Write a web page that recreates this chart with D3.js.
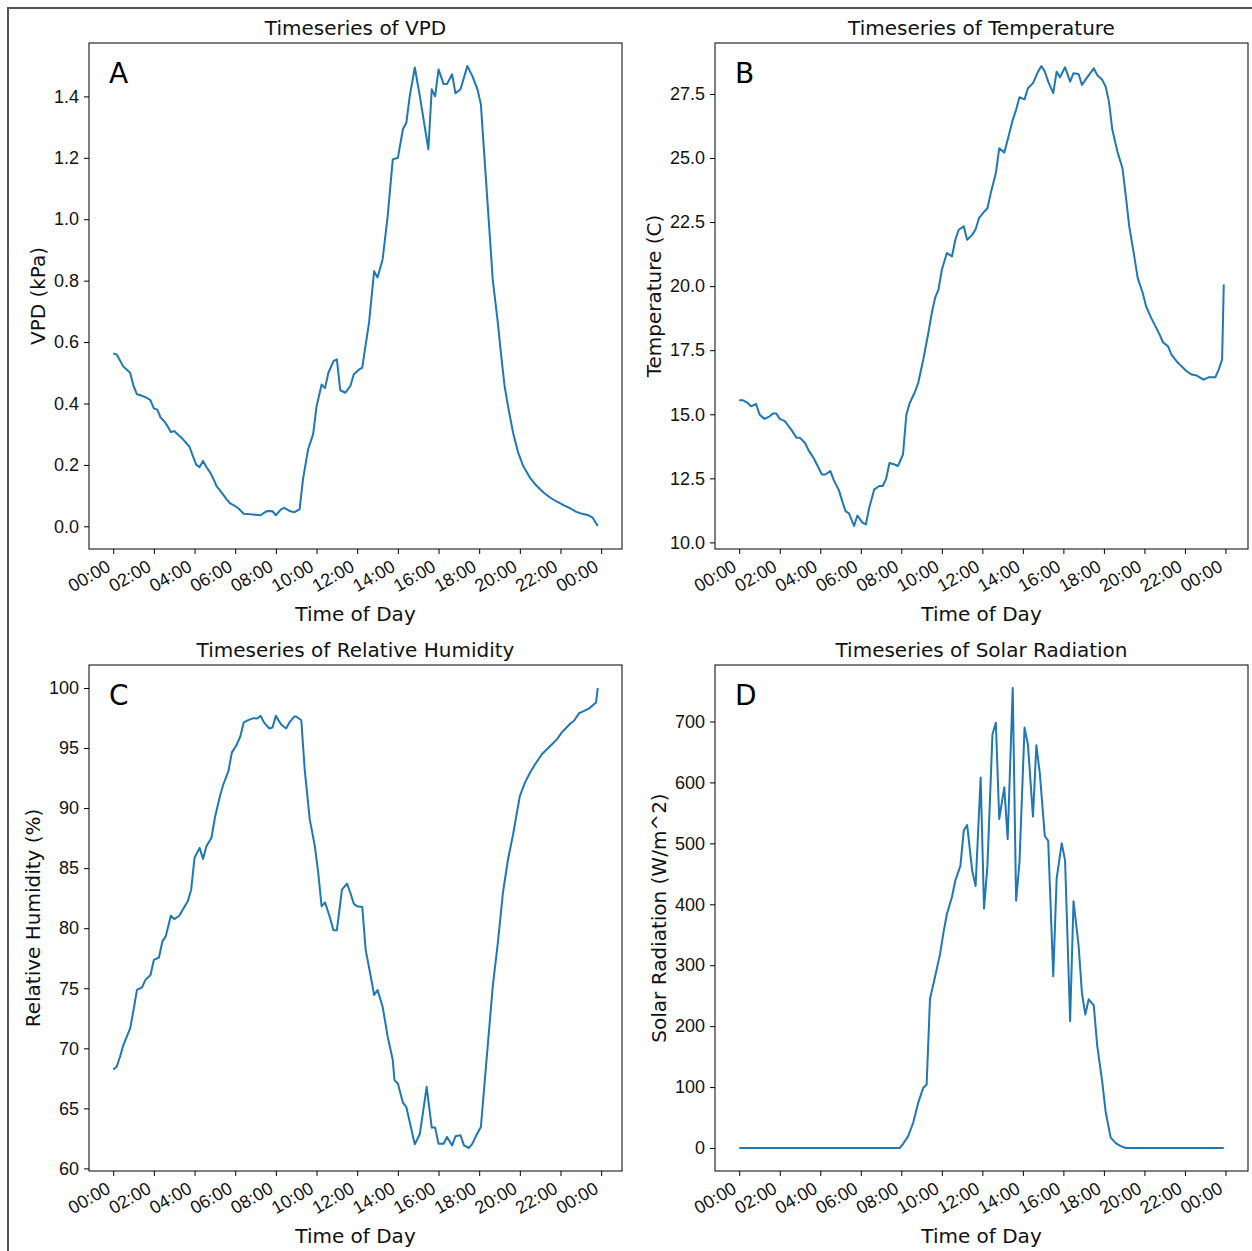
<!DOCTYPE html>
<html>
<head>
<meta charset="utf-8">
<script src="https://cdn.jsdelivr.net/npm/d3@7"></script>
<style>
  body { margin: 0; background: #fff; }
  svg { font-family: "DejaVu Sans", sans-serif; }
</style>
</head>
<body>
<svg id="chart" width="1252" height="1251"></svg>
<script>
// VPD (kPa)
const vpdTimes = ["00:00","00:10","00:20","00:30","00:50","01:00","01:10","01:25","01:40","01:50","02:00","02:10","02:20","02:30","02:40","02:50","03:00","03:10","03:20","03:30","03:45","03:55","04:05","04:15","04:25","04:35","04:45","04:55","05:05","05:20","05:35","05:45","05:55","06:10","06:25","06:45","07:00","07:15","07:25","07:35","07:50","08:00","08:15","08:25","08:40","08:55","09:10","09:20","09:35","09:50","10:00","10:15","10:25","10:35","10:50","11:00","11:10","11:25","11:40","11:50","12:05","12:15","12:20","12:35","12:50","13:00","13:15","13:30","13:45","14:00","14:15","14:25","14:35","14:50","15:05","15:30","15:40","15:50","16:00","16:15","16:25","16:40","16:50","17:05","17:25","17:40","17:55","18:05","18:20","18:30","18:40","18:55","19:05","19:15","19:25","19:40","19:55","20:10","20:30","20:50","21:10","21:30","21:50","22:10","22:30","22:45","23:00","23:20","23:35","23:50"];
const vpdValues = [0.563,0.56,0.54,0.52,0.50,0.457,0.43,0.425,0.418,0.41,0.384,0.38,0.354,0.343,0.327,0.307,0.31,0.30,0.29,0.278,0.259,0.229,0.20,0.193,0.213,0.193,0.177,0.156,0.131,0.11,0.088,0.075,0.069,0.058,0.041,0.039,0.038,0.036,0.044,0.05,0.049,0.036,0.055,0.06,0.05,0.046,0.055,0.153,0.25,0.30,0.39,0.462,0.45,0.50,0.538,0.544,0.443,0.435,0.457,0.495,0.51,0.517,0.555,0.663,0.831,0.81,0.869,1.01,1.195,1.20,1.293,1.314,1.40,1.494,1.40,1.228,1.423,1.40,1.488,1.44,1.44,1.472,1.41,1.423,1.499,1.466,1.423,1.374,1.13,0.967,0.804,0.663,0.555,0.457,0.392,0.305,0.24,0.196,0.158,0.131,0.11,0.093,0.08,0.068,0.058,0.048,0.042,0.037,0.028,0.001];

// Temperature (C)
const tempTimes = ["00:00","00:10","00:25","00:35","00:50","01:00","01:15","01:30","01:40","01:50","02:00","02:15","02:25","02:35","02:50","03:00","03:15","03:25","03:40","03:50","04:05","04:15","04:30","04:40","04:55","05:05","05:15","05:25","05:40","05:50","06:05","06:15","06:25","06:40","06:55","07:05","07:15","07:25","07:40","07:50","08:05","08:15","08:25","08:40","08:50","09:05","09:20","09:30","09:40","09:50","10:00","10:15","10:30","10:40","10:50","11:05","11:15","11:30","11:40","11:50","12:05","12:15","12:25","12:40","12:50","13:05","13:15","13:30","13:40","13:50","14:05","14:15","14:30","14:45","14:55","15:05","15:15","15:30","15:40","15:50","16:05","16:20","16:30","16:45","16:55","17:05","17:30","17:40","17:55","18:05","18:15","18:25","18:40","18:55","19:05","19:15","19:30","19:40","19:55","20:05","20:20","20:35","20:45","20:55","21:10","21:20","21:35","21:50","22:05","22:20","22:35","22:55","23:10","23:30","23:40","23:50","23:55"];
const tempValues = [15.55,15.55,15.44,15.31,15.4,14.99,14.82,14.92,15.03,15.03,14.82,14.73,14.56,14.38,14.08,14.08,13.88,13.6,13.3,13.04,12.65,12.65,12.78,12.43,12.04,11.61,11.22,11.13,10.64,11.05,10.77,10.7,11.35,12.07,12.2,12.2,12.48,13.1,13.04,12.98,13.43,14.99,15.44,15.86,16.22,17.13,18.17,18.93,19.54,19.86,20.64,21.29,21.16,21.81,22.2,22.33,21.81,22.0,22.22,22.65,22.9,23.04,23.63,24.41,25.38,25.21,25.71,26.49,26.88,27.37,27.29,27.72,27.92,28.37,28.59,28.37,27.98,27.53,28.37,28.15,28.54,27.98,28.31,28.28,27.85,28.05,28.5,28.24,28.05,27.79,27.2,26.1,25.25,24.6,23.5,22.33,21.16,20.32,19.73,19.21,18.76,18.37,18.11,17.81,17.65,17.33,17.07,16.87,16.68,16.55,16.51,16.35,16.44,16.44,16.74,17.13,20.06];

// Relative humidity (%)
const rhTimes = ["00:00","00:10","00:20","00:30","00:40","00:50","01:00","01:10","01:25","01:35","01:50","02:00","02:15","02:25","02:35","02:50","03:00","03:15","03:25","03:40","03:50","04:00","04:15","04:25","04:35","04:50","05:00","05:15","05:25","05:40","05:50","06:05","06:15","06:25","06:40","06:55","07:05","07:15","07:25","07:40","07:50","08:00","08:15","08:30","08:40","08:55","09:00","09:15","09:25","09:40","09:55","10:05","10:15","10:25","10:40","10:50","11:00","11:15","11:30","11:40","11:50","12:00","12:15","12:25","12:40","12:50","13:00","13:15","13:30","13:45","13:50","14:00","14:15","14:25","14:35","14:50","15:05","15:15","15:25","15:40","15:50","16:00","16:15","16:25","16:40","16:50","17:05","17:15","17:30","17:40","17:50","18:05","18:15","18:30","18:40","18:55","19:10","19:25","19:40","20:00","20:15","20:30","20:45","21:05","21:20","21:35","21:50","22:05","22:15","22:30","22:40","22:55","23:10","23:25","23:30","23:45","23:50"];
const rhValues = [68.24,68.46,69.3,70.27,70.97,71.66,73.19,74.86,75.08,75.7,76.11,77.37,77.56,78.9,79.32,81.04,80.76,81.04,81.54,82.24,83.21,85.86,86.69,85.77,86.83,87.53,89.2,91.0,91.98,93.09,94.62,95.32,95.96,97.13,97.35,97.49,97.46,97.68,97.13,96.63,96.71,97.68,96.99,96.63,97.13,97.63,97.63,97.32,93.23,89.06,86.83,84.6,81.82,82.15,80.85,79.82,79.82,83.21,83.71,82.93,82.04,81.82,81.76,78.2,75.98,74.44,74.86,73.47,70.97,69.02,67.35,67.07,65.46,65.12,63.87,62.0,62.89,64.84,66.79,63.4,63.4,62.06,62.06,62.62,61.92,62.67,62.76,61.92,61.7,62.06,62.67,63.45,66.79,71.8,75.14,78.76,82.93,85.72,87.8,91.0,92.12,92.95,93.65,94.48,94.9,95.32,95.74,96.35,96.63,97.07,97.27,97.91,98.1,98.3,98.44,98.8,100.0];

// Solar radiation (W/m^2)
const solarTimes = ["00:00","07:55","08:05","08:20","08:35","08:50","09:05","09:15","09:25","09:40","09:55","10:05","10:15","10:30","10:40","10:55","11:05","11:15","11:30","11:40","11:55","12:05","12:15","12:30","12:40","12:50","13:05","13:15","13:30","13:40","13:50","14:05","14:15","14:30","14:40","14:50","15:05","15:15","15:30","15:40","15:55","16:05","16:20","16:30","16:45","16:55","17:05","17:15","17:30","17:40","17:55","18:05","18:20","18:35","18:50","19:05","23:55"];
const solarValues = [0,0,6.5,19,41,74,99,104,245,281,319,354,384,412,439,463,521,530,455,430,608,393,463,679,698,540,592,507,755,406,469,690,662,544,661,616,512,504,282,442,500,472,208,405,333,254,219,244,234,169,109,60,17,8,3,0,0];

// Tick values
const vpdTicks = [0, 0.2, 0.4, 0.6, 0.8, 1.0, 1.2, 1.4];
const tempTicks = [10, 12.5, 15, 17.5, 20, 22.5, 25, 27.5];
const rhTicks = [60, 65, 70, 75, 80, 85, 90, 95, 100];
const solarTicks = [0, 100, 200, 300, 400, 500, 600, 700];

const parseTime = d3.timeParse("%H:%M");
const formatTime = d3.timeFormat("%H:%M");

const panels = [
  { letter: "A", title: "Timeseries of VPD", yLabel: "VPD (kPa)", times: vpdTimes, values: vpdValues, ticks: vpdTicks, fmt: d3.format(".1f"), col: 0, row: 0 },
  { letter: "B", title: "Timeseries of Temperature", yLabel: "Temperature (C)", times: tempTimes, values: tempValues, ticks: tempTicks, fmt: d3.format(".1f"), col: 1, row: 0 },
  { letter: "C", title: "Timeseries of Relative Humidity", yLabel: "Relative Humidity (%)", times: rhTimes, values: rhValues, ticks: rhTicks, fmt: d3.format("d"), col: 0, row: 1 },
  { letter: "D", title: "Timeseries of Solar Radiation", yLabel: "Solar Radiation (W/m^2)", times: solarTimes, values: solarValues, ticks: solarTicks, fmt: d3.format("d"), col: 1, row: 1 },
];

// Layout
const colLeft = [89, 715];
const rowTop = [43, 665];
const plotW = 533;
const plotH = 506;
const TICK_FONT = "18px";

const svg = d3.select("#chart");

// Figure border
svg.append("rect")
  .attr("x", 8)
  .attr("y", 8)
  .attr("width", 1260)
  .attr("height", 1260)
  .attr("fill", "none")
  .attr("stroke", "#555")
  .attr("stroke-width", 2);

// matplotlib-like 5% margins
function padded(ext) {
  const pad = (ext[1] - ext[0]) * 0.05;
  return [ext[0] - pad, ext[1] + pad];
}

panels.forEach((p) => {
  const left = colLeft[p.col];
  const top = rowTop[p.row];
  const data = p.times.map((t, i) => ({ t: parseTime(t), v: p.values[i] }));

  const [t0, t1] = padded(d3.extent(data, (d) => +d.t));
  const x = d3.scaleTime().domain([new Date(t0), new Date(t1)]).range([0, plotW]);
  const y = d3.scaleLinear().domain(padded(d3.extent(data, (d) => d.v))).range([plotH, 0]);

  const g = svg.append("g").attr("transform", `translate(${left},${top})`);

  // Line
  const line = d3.line().x((d) => x(d.t)).y((d) => y(d.v));
  g.append("path")
    .datum(data)
    .attr("fill", "none")
    .attr("stroke", "#1f77b4")
    .attr("stroke-width", 2)
    .attr("stroke-linejoin", "round")
    .attr("d", line);

  // X axis
  const xTicks = d3.timeHour.every(2).range(parseTime("00:00"), new Date(t1));
  const xAxis = g.append("g")
    .attr("transform", `translate(0,${plotH})`)
    .call(d3.axisBottom(x).tickValues(xTicks).tickFormat(formatTime).tickSize(5).tickSizeOuter(0));
  xAxis.select(".domain").remove();
  xAxis.selectAll("text")
    .attr("x", 0)
    .attr("y", 0)
    .attr("dy", null)
    .attr("transform", "translate(-2,21) rotate(-30)")
    .style("text-anchor", "end")
    .style("font-size", TICK_FONT)
    .attr("fill", "#111");

  // Y axis
  const yAxis = g.append("g")
    .call(d3.axisLeft(y).tickValues(p.ticks).tickFormat(p.fmt).tickSize(5).tickPadding(5).tickSizeOuter(0));
  yAxis.select(".domain").remove();
  yAxis.selectAll("text").style("font-size", TICK_FONT).attr("fill", "#111");

  let maxW = 0;
  yAxis.selectAll("text").each(function () {
    maxW = Math.max(maxW, this.getBBox().width);
  });

  // Frame
  g.append("rect")
    .attr("width", plotW)
    .attr("height", plotH)
    .attr("fill", "none")
    .attr("stroke", "#000")
    .attr("stroke-width", 1);

  // Title
  g.append("text")
    .attr("x", plotW / 2)
    .attr("y", -8)
    .attr("text-anchor", "middle")
    .style("font-size", "20px")
    .attr("fill", "#111")
    .text(p.title);

  // X label
  g.append("text")
    .attr("x", plotW / 2)
    .attr("y", plotH + 72)
    .attr("text-anchor", "middle")
    .style("font-size", "20px")
    .attr("fill", "#111")
    .text("Time of Day");

  // Y label
  g.append("text")
    .attr("transform", `translate(${-(10 + maxW + 16)},${plotH / 2}) rotate(-90)`)
    .attr("text-anchor", "middle")
    .attr("dominant-baseline", "central")
    .style("font-size", "20px")
    .attr("fill", "#111")
    .text(p.yLabel);

  // Panel letter
  g.append("text")
    .attr("x", 20)
    .attr("y", 40)
    .style("font-size", "28px")
    .attr("fill", "#000")
    .text(p.letter);
});
</script>
</body>
</html>
